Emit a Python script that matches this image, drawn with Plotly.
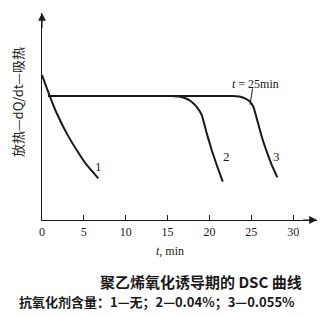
import plotly.graph_objects as go

# Data (t in min, signal in arbitrary units)
t1 = [0.0, 0.88, 1.76, 2.95, 4.14, 5.34, 6.73]
y1 = [1.17, 1.008, 0.861, 0.699, 0.565, 0.444, 0.336]

t2 = [0.72, 15.5, 16.5, 17.2, 17.7, 18.1, 18.5, 19.08, 19.68, 20.27, 20.87, 21.59]
y2 = [1.0, 1.0, 0.995, 0.98, 0.962, 0.94, 0.91, 0.847, 0.699, 0.565, 0.444, 0.309]

t3 = [0.72, 22.8, 23.7, 24.3, 24.8, 25.25, 25.65, 26.25, 26.85, 27.44, 28.11]
y3 = [1.0, 1.0, 0.995, 0.98, 0.958, 0.914, 0.82, 0.672, 0.551, 0.444, 0.344]

curve_labels = ["1", "2", "3"]
label_pos_t = [6.7, 22.0, 28.0]
label_pos_y = [0.43, 0.51, 0.51]
x_ticks = [0, 5, 10, 15, 20, 25, 30]
onset_t = 25

X_MAX = 32.85
Y_MAX = 1.67
INK = "#1a1a1a"
SERIF = "Liberation Serif, Noto Serif CJK SC, Noto Sans CJK SC"
CJK = "Noto Sans CJK SC"

fig = go.Figure()
for tt, yy in [(t1, y1), (t2, y2), (t3, y3)]:
    fig.add_trace(go.Scatter(x=tt, y=yy, mode="lines", line=dict(color=INK, width=2, shape="spline", smoothing=0.4),
                             showlegend=False, hoverinfo="skip", cliponaxis=False))

# axis arrowheads
fig.add_annotation(x=0, y=Y_MAX, ax=0, ay=Y_MAX - 0.2, xref="x", yref="y", axref="x", ayref="y",
                   showarrow=True, arrowhead=2, arrowsize=1.3, arrowwidth=1.2, arrowcolor=INK, text=" ")
fig.add_annotation(x=X_MAX, y=0, ax=X_MAX - 2, ay=0, xref="x", yref="y", axref="x", ayref="y",
                   showarrow=True, arrowhead=2, arrowsize=1.3, arrowwidth=1.2, arrowcolor=INK, text=" ")

# curve labels
for lab, lx, ly in zip(curve_labels, label_pos_t, label_pos_y):
    fig.add_annotation(x=lx, y=ly, text=lab, showarrow=False, font=dict(family=SERIF, size=13, color=INK))

# onset marker
fig.add_shape(type="line", x0=onset_t - 0.15, x1=onset_t + 0.15, y0=0.93, y1=1.06, xref="x", yref="y",
              line=dict(color=INK, width=1))
fig.add_annotation(x=onset_t + 0.5, y=1.1, text="<i>t</i> = %dmin" % onset_t, showarrow=False,
                   font=dict(family=SERIF, size=12, color=INK))

fig.update_layout(
    width=320, height=317,
    margin=dict(l=42, r=3, t=13, b=97),
    paper_bgcolor="white", plot_bgcolor="white",
    xaxis=dict(range=[0, X_MAX], tickvals=x_ticks, ticks="inside", ticklen=5, tickcolor=INK,
               showline=True, linecolor=INK, linewidth=1.2, showgrid=False, zeroline=False,
               tickfont=dict(family=SERIF, size=12, color=INK)),
    yaxis=dict(range=[0, Y_MAX], showticklabels=False, ticks="", showline=True, linecolor=INK, linewidth=1.2,
               showgrid=False, zeroline=False),
)

plot_h = 317 - 13 - 97
def py(pix):
    return (317 - 97 - pix) / plot_h

def caption(xpix, ypix, text, font, angle=0):
    fig.add_annotation(x=(xpix - 42) / 275, y=py(ypix), xref="paper", yref="paper", text=text,
                       xanchor="center", yanchor="middle", textangle=angle, showarrow=False, font=font)

caption(170, 251, "<i>t</i>, min", dict(family=SERIF, size=12, color=INK))
caption(17, 102, "放热—dQ/dt—吸热", dict(family=CJK, size=13, color=INK), angle=-90)
caption(201, 281, "<b>聚乙烯氧化诱导期的 DSC 曲线</b>", dict(family=CJK, size=15, color=INK))
caption(157, 301, "<b>抗氧化剂含量：1—无；2—0.04%；3—0.055%</b>", dict(family=CJK, size=13, color=INK))

fig.write_html("out.html")
